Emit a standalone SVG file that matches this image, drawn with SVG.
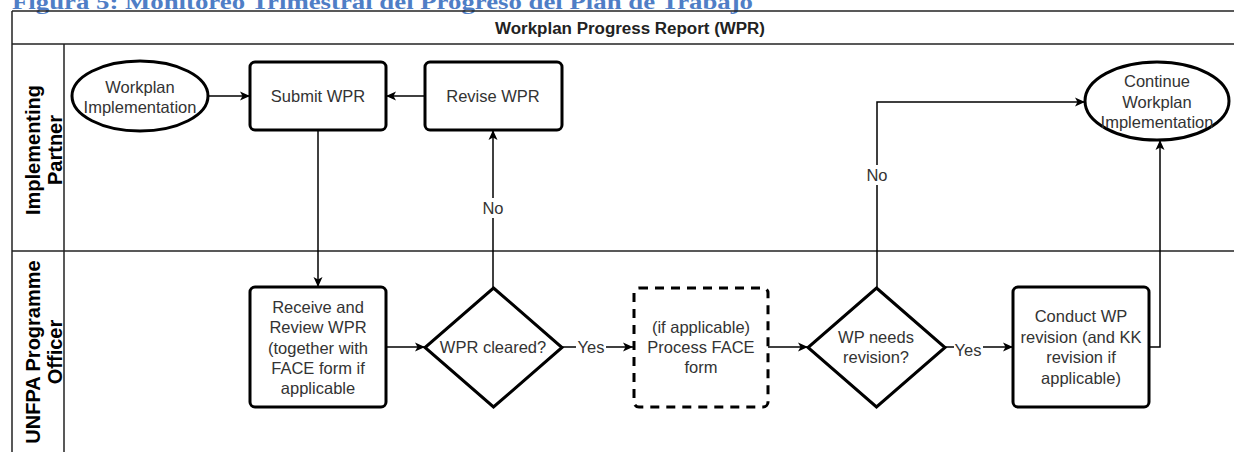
<svg xmlns="http://www.w3.org/2000/svg" width="1234" height="452" viewBox="0 0 1234 452">
  <defs>
    <marker id="arrow" viewBox="0 0 10 10" refX="10" refY="5" markerWidth="11" markerHeight="10" markerUnits="userSpaceOnUse" orient="auto">
      <path d="M0,0.5 L10,5 L0,9.5 L2.5,5 z" fill="#000"/>
    </marker>
    <style>
      .frame { stroke: #222; stroke-width: 1.5; fill: none; }
      .node { fill: #fff; stroke: #000; stroke-width: 3; }
      .dashed { fill: #fff; stroke: #000; stroke-width: 3; stroke-dasharray: 9 7; }
      .edge { fill: none; stroke: #000; stroke-width: 1.5; marker-end: url(#arrow); }
      .label { font-family: "Liberation Sans", Arial, sans-serif; font-size: 16.5px; fill: #333; text-anchor: middle; }
      .lane { font-family: "Liberation Sans", Arial, sans-serif; font-size: 20px; font-weight: bold; fill: #000; text-anchor: middle; }
      .bg { fill: #fff; }
    </style>
  </defs>

  <rect width="1234" height="452" fill="#fff"/>

  <!-- figure caption, partly above the page edge -->
  <text x="12" y="9" font-family="'Liberation Serif', 'Times New Roman', serif" font-size="20" font-weight="bold" fill="#4F7EC6" textLength="741" lengthAdjust="spacingAndGlyphs">Figura 5: Monitoreo Trimestral del Progreso del Plan de Trabajo</text>

  <!-- pool and lanes -->
  <g id="pool">
    <line class="frame" x1="12" y1="11" x2="1234" y2="11"/>
    <line class="frame" x1="12" y1="44" x2="1234" y2="44" stroke-width="2.2"/>
    <line class="frame" x1="12" y1="11" x2="12" y2="452"/>
    <line class="frame" x1="64" y1="44" x2="64" y2="452"/>
    <line class="frame" x1="12" y1="251" x2="1234" y2="251"/>
    <text x="630" y="34" font-family="'Liberation Sans', Arial, sans-serif" font-size="16" font-weight="bold" fill="#222" text-anchor="middle" textLength="270" lengthAdjust="spacingAndGlyphs">Workplan Progress Report (WPR)</text>
  </g>

  <g id="lane-implementing-partner">
    <text class="lane" transform="translate(40,150) rotate(-90)">Implementing</text>
    <text class="lane" transform="translate(62,150) rotate(-90)">Partner</text>
  </g>

  <g id="lane-unfpa-officer">
    <text class="lane" transform="translate(40,352) rotate(-90)">UNFPA Programme</text>
    <text class="lane" transform="translate(62,352) rotate(-90)">Officer</text>
  </g>

  <!-- connectors -->
  <g id="connectors">
    <path class="edge" d="M208,96 L250,96"/>
    <path class="edge" d="M425,96 L386,96"/>
    <path class="edge" d="M318,130 L318,287"/>
    <path class="edge" d="M386,347 L425,347"/>
    <path class="edge" d="M493,288 L493,130"/>
    <path class="edge" d="M562,347 L633,347"/>
    <path class="edge" d="M768,347 L808,347"/>
    <path class="edge" d="M877,288 L877,102 L1085,102"/>
    <path class="edge" d="M945,347 L1013,347"/>
    <path class="edge" d="M1149,347 L1160,347 L1160,140"/>
    <!-- edge labels -->
    <rect class="bg" x="481" y="198" width="24" height="20"/>
    <text class="label" x="493" y="214">No</text>
    <rect class="bg" x="865" y="165" width="24" height="20"/>
    <text class="label" x="877" y="181">No</text>
    <rect class="bg" x="576" y="338" width="30" height="18"/>
    <text class="label" x="591" y="353">Yes</text>
    <rect class="bg" x="954" y="340" width="29" height="18"/>
    <text class="label" x="968" y="356">Yes</text>
  </g>

  <g id="workplan-implementation">
    <ellipse class="node" cx="140" cy="96" rx="68" ry="35"/>
    <text class="label" x="140" y="93">Workplan</text>
    <text class="label" x="140" y="113">Implementation</text>
  </g>

  <g id="submit-wpr">
    <rect class="node" x="250" y="62" width="136" height="68" rx="5"/>
    <text class="label" x="318" y="102">Submit WPR</text>
  </g>

  <g id="revise-wpr">
    <rect class="node" x="425" y="62" width="137" height="68" rx="5"/>
    <text class="label" x="493" y="102">Revise WPR</text>
  </g>

  <g id="continue-implementation">
    <ellipse class="node" cx="1157" cy="101" rx="72" ry="39"/>
    <text class="label" x="1157" y="87">Continue</text>
    <text class="label" x="1157" y="108">Workplan</text>
    <text class="label" x="1157" y="128">Implementation</text>
  </g>

  <g id="receive-review-wpr">
    <rect class="node" x="250" y="287" width="136" height="120" rx="5"/>
    <text class="label" x="318" y="313">Receive and</text>
    <text class="label" x="318" y="333">Review WPR</text>
    <text class="label" x="318" y="354">(together with</text>
    <text class="label" x="318" y="374">FACE form if</text>
    <text class="label" x="318" y="394">applicable</text>
  </g>

  <g id="wpr-cleared">
    <polygon class="node" points="493.5,288 562,347.5 493.5,407 425,347.5"/>
    <text class="label" x="493" y="353">WPR cleared?</text>
  </g>

  <g id="process-face-form">
    <rect class="dashed" x="634" y="288" width="134" height="119" rx="5"/>
    <text class="label" x="701" y="333">(if applicable)</text>
    <text class="label" x="701" y="353">Process FACE</text>
    <text class="label" x="701" y="373">form</text>
  </g>

  <g id="wp-needs-revision">
    <polygon class="node" points="876.5,288 945,347.5 876.5,407 808,347.5"/>
    <text class="label" x="876" y="343">WP needs</text>
    <text class="label" x="876" y="363">revision?</text>
  </g>

  <g id="conduct-wp-revision">
    <rect class="node" x="1013" y="287" width="136" height="120" rx="5"/>
    <text class="label" x="1081" y="322">Conduct WP</text>
    <text class="label" x="1081" y="343">revision (and KK</text>
    <text class="label" x="1081" y="363">revision if</text>
    <text class="label" x="1081" y="384">applicable)</text>
  </g>
</svg>
